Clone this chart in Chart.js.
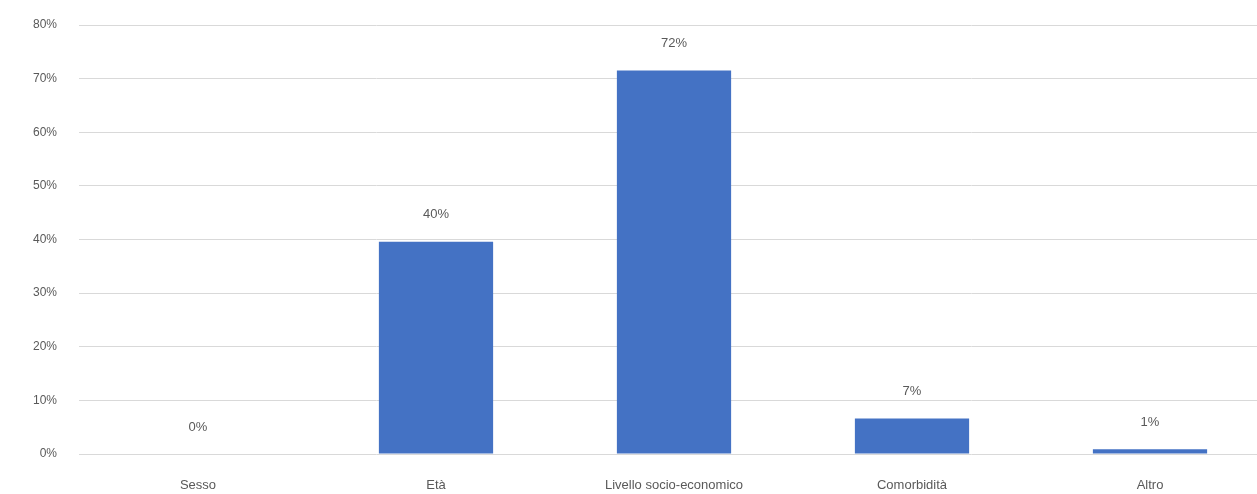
<!DOCTYPE html>
<html>
<head>
<meta charset="utf-8">
<script src="https://cdn.jsdelivr.net/npm/chart.js@4/dist/chart.umd.min.js"></script>
<style>
  html, body { margin: 0; padding: 0; background: #fff; overflow: hidden; }
  #wrap { width: 1272px; height: 494px; }
</style>
</head>
<body>
<div id="wrap"><canvas id="myChart"></canvas></div>
<script>
const categories = ["Sesso", "Età", "Livello socio-economico", "Comorbidità", "Altro"];
const values = [0, 39.6, 71.5, 6.6, 0.9];
const yTicks = [0, 10, 20, 30, 40, 50, 60, 70, 80];

const FONT = "'Liberation Sans Narrow', 'Liberation Sans', Arial, sans-serif";
const TEXT = "#595959";

// scrive le percentuali sopra le barre
const barLabels = {
  id: "barLabels",
  afterDatasetsDraw(chart) {
    const ctx = chart.ctx;
    const meta = chart.getDatasetMeta(0);
    ctx.save();
    ctx.font = "13px " + FONT;
    ctx.fillStyle = TEXT;
    ctx.textAlign = "center";
    ctx.textBaseline = "middle";
    meta.data.forEach((bar, i) => {
      ctx.fillText(Math.round(values[i]) + "%", bar.x, bar.y - 27);
    });
    ctx.restore();
  }
};

const drawChart = () => {
  new Chart(document.getElementById("myChart"), {
    type: "bar",
    data: {
      labels: categories,
      datasets: [{
        data: values,
        backgroundColor: "#4472C4",
        borderWidth: 0,
        categoryPercentage: 1,
        barPercentage: 0.48
      }]
    },
    options: {
      responsive: true,
      maintainAspectRatio: false,
      animation: false,
      layout: { padding: { top: 25, right: 3, left: 0, bottom: 0 } },
      plugins: { legend: { display: false }, tooltip: { enabled: false } },
      scales: {
        x: {
          grid: { display: false, drawTicks: false },
          border: { display: false },
          ticks: { color: TEXT, font: { family: FONT, size: 13 }, padding: 24, maxRotation: 0 },
          afterFit(scale) { scale.height = 40; }
        },
        y: {
          min: 0,
          max: 80,
          afterBuildTicks(scale) { scale.ticks = yTicks.map(v => ({ value: v })); },
          grid: { color: "#d9d9d9", lineWidth: 1, drawTicks: false },
          border: { display: false },
          ticks: {
            color: TEXT,
            font: { family: FONT, size: 12 },
            padding: 22,
            callback: v => v + "%"
          },
          afterFit(scale) { scale.width = 79; scale.paddingTop = 0; }
        }
      }
    },
    plugins: [barLabels]
  });
};

window.addEventListener("load", drawChart);
</script>
</body>
</html>
